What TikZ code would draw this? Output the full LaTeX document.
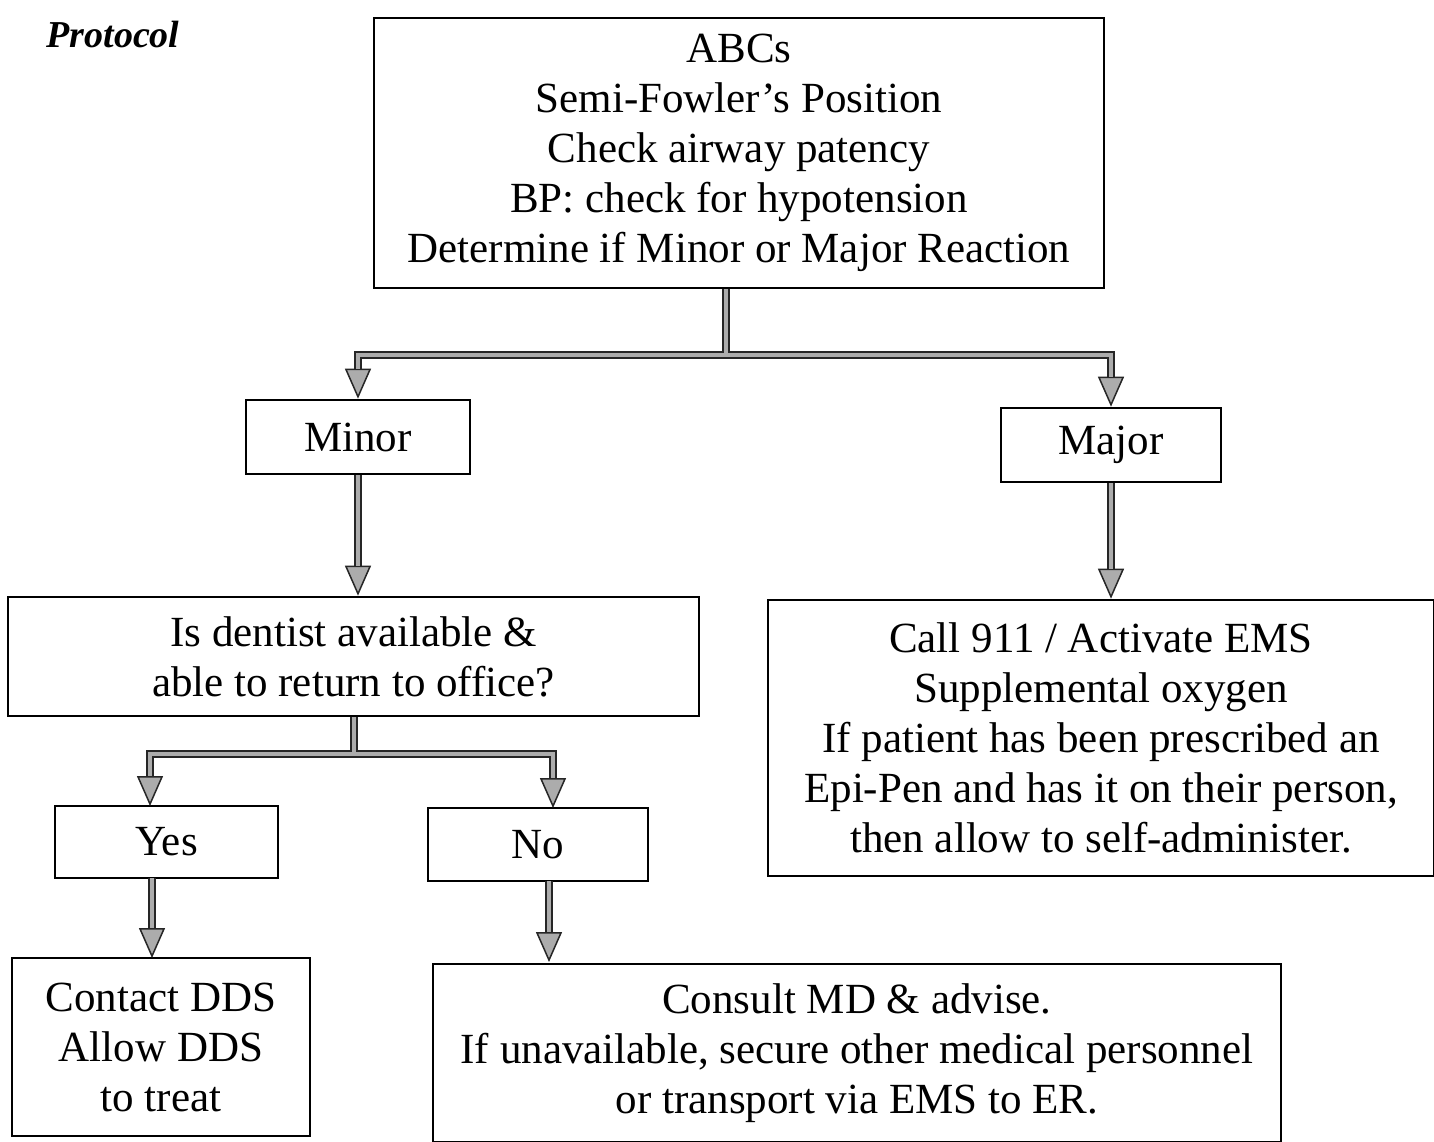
\documentclass[tikz,border=0pt]{standalone}
\usepackage{fontspec}
\setmainfont{Liberation Serif}
\usetikzlibrary{arrows.meta}
\tikzset{
  x=1pt, y=-1pt,
  box/.style={draw=black, line width=2.6pt, rectangle, inner sep=0pt, align=center,
    font=\fontsize{43}{50}\selectfont},
  shaft/.style={line width=8pt, draw=black!85},
  shafttip/.style={line width=8pt, draw=black!85,
    -{Triangle[length=30pt,width=26pt,fill=gray!65,line width=1.5pt]}},
  inner/.style={line width=3.6pt, draw=gray!65},
}
\begin{document}
\begin{tikzpicture}
\fill[white] (0,0) rectangle (1434,1142);
\useasboundingbox (0,0) rectangle (1434,1142);

\node[font=\fontsize{38}{44}\selectfont\bfseries\itshape, anchor=west] (title) at (43,35) {Protocol};

\node[box, minimum width=730, minimum height=270] (top) at (739,153)
  {ABCs\\Semi-Fowler’s Position\\Check airway patency\\BP: check for hypotension\\Determine if Minor or Major Reaction};
\node[box, minimum width=224, minimum height=74] (minor) at (358,437) {Minor};
\node[box, minimum width=220, minimum height=74] (major) at (1111,445) {Major};
\node[box, minimum width=691, minimum height=119] (dent) at (353.5,656.5)
  {Is dentist available \&\\able to return to office?};
\node[box, minimum width=666, minimum height=276] (ems) at (1101,738)
  {Call 911 / Activate EMS\\Supplemental oxygen\\If patient has been prescribed an\\Epi-Pen and has it on their person,\\then allow to self-administer.};
\node[box, minimum width=223, minimum height=72] (yes) at (166.5,842) {Yes};
\node[box, minimum width=220, minimum height=73] (no) at (538,844.5) {No};
\node[box, minimum width=298, minimum height=178] (dds) at (161,1047)
  {Contact DDS\\Allow DDS\\to treat};
\node[box, minimum width=848, minimum height=178] (md) at (857,1053)
  {Consult MD \& advise.\\If unavailable, secure other medical personnel\\or transport via EMS to ER.};

\coordinate (j1) at (726,355);
\coordinate (j2) at (354,754);

% top splits
\draw[shaft] (top.south -| j1) -- (j1);
\draw[shafttip] (j1) -| (minor.north);
\draw[shafttip] (j1) -| (major.north);
\draw[inner] (top.south -| j1) -- (j1);
\draw[inner, shorten >=30pt] (j1) -| (minor.north);
\draw[inner, shorten >=30pt] (j1) -| (major.north);

\draw[shafttip] (minor.south) -- (dent.north -| minor.south);
\draw[inner, shorten >=30pt] (minor.south) -- (dent.north -| minor.south);
\draw[shafttip] (major.south) -- (ems.north -| major.south);
\draw[inner, shorten >=30pt] (major.south) -- (ems.north -| major.south);

% dentist split
\draw[shaft] (dent.south -| j2) -- (j2);
\draw[shafttip] (j2) -| (150,806);
\draw[shafttip] (j2) -| (553,808);
\draw[inner] (dent.south -| j2) -- (j2);
\draw[inner, shorten >=30pt] (j2) -| (150,806);
\draw[inner, shorten >=30pt] (j2) -| (553,808);

\draw[shafttip] (152,878) -- (152,958);
\draw[inner, shorten >=30pt] (152,878) -- (152,958);
\draw[shafttip] (549,881) -- (549,962);
\draw[inner, shorten >=30pt] (549,881) -- (549,962);
\end{tikzpicture}
\end{document}
